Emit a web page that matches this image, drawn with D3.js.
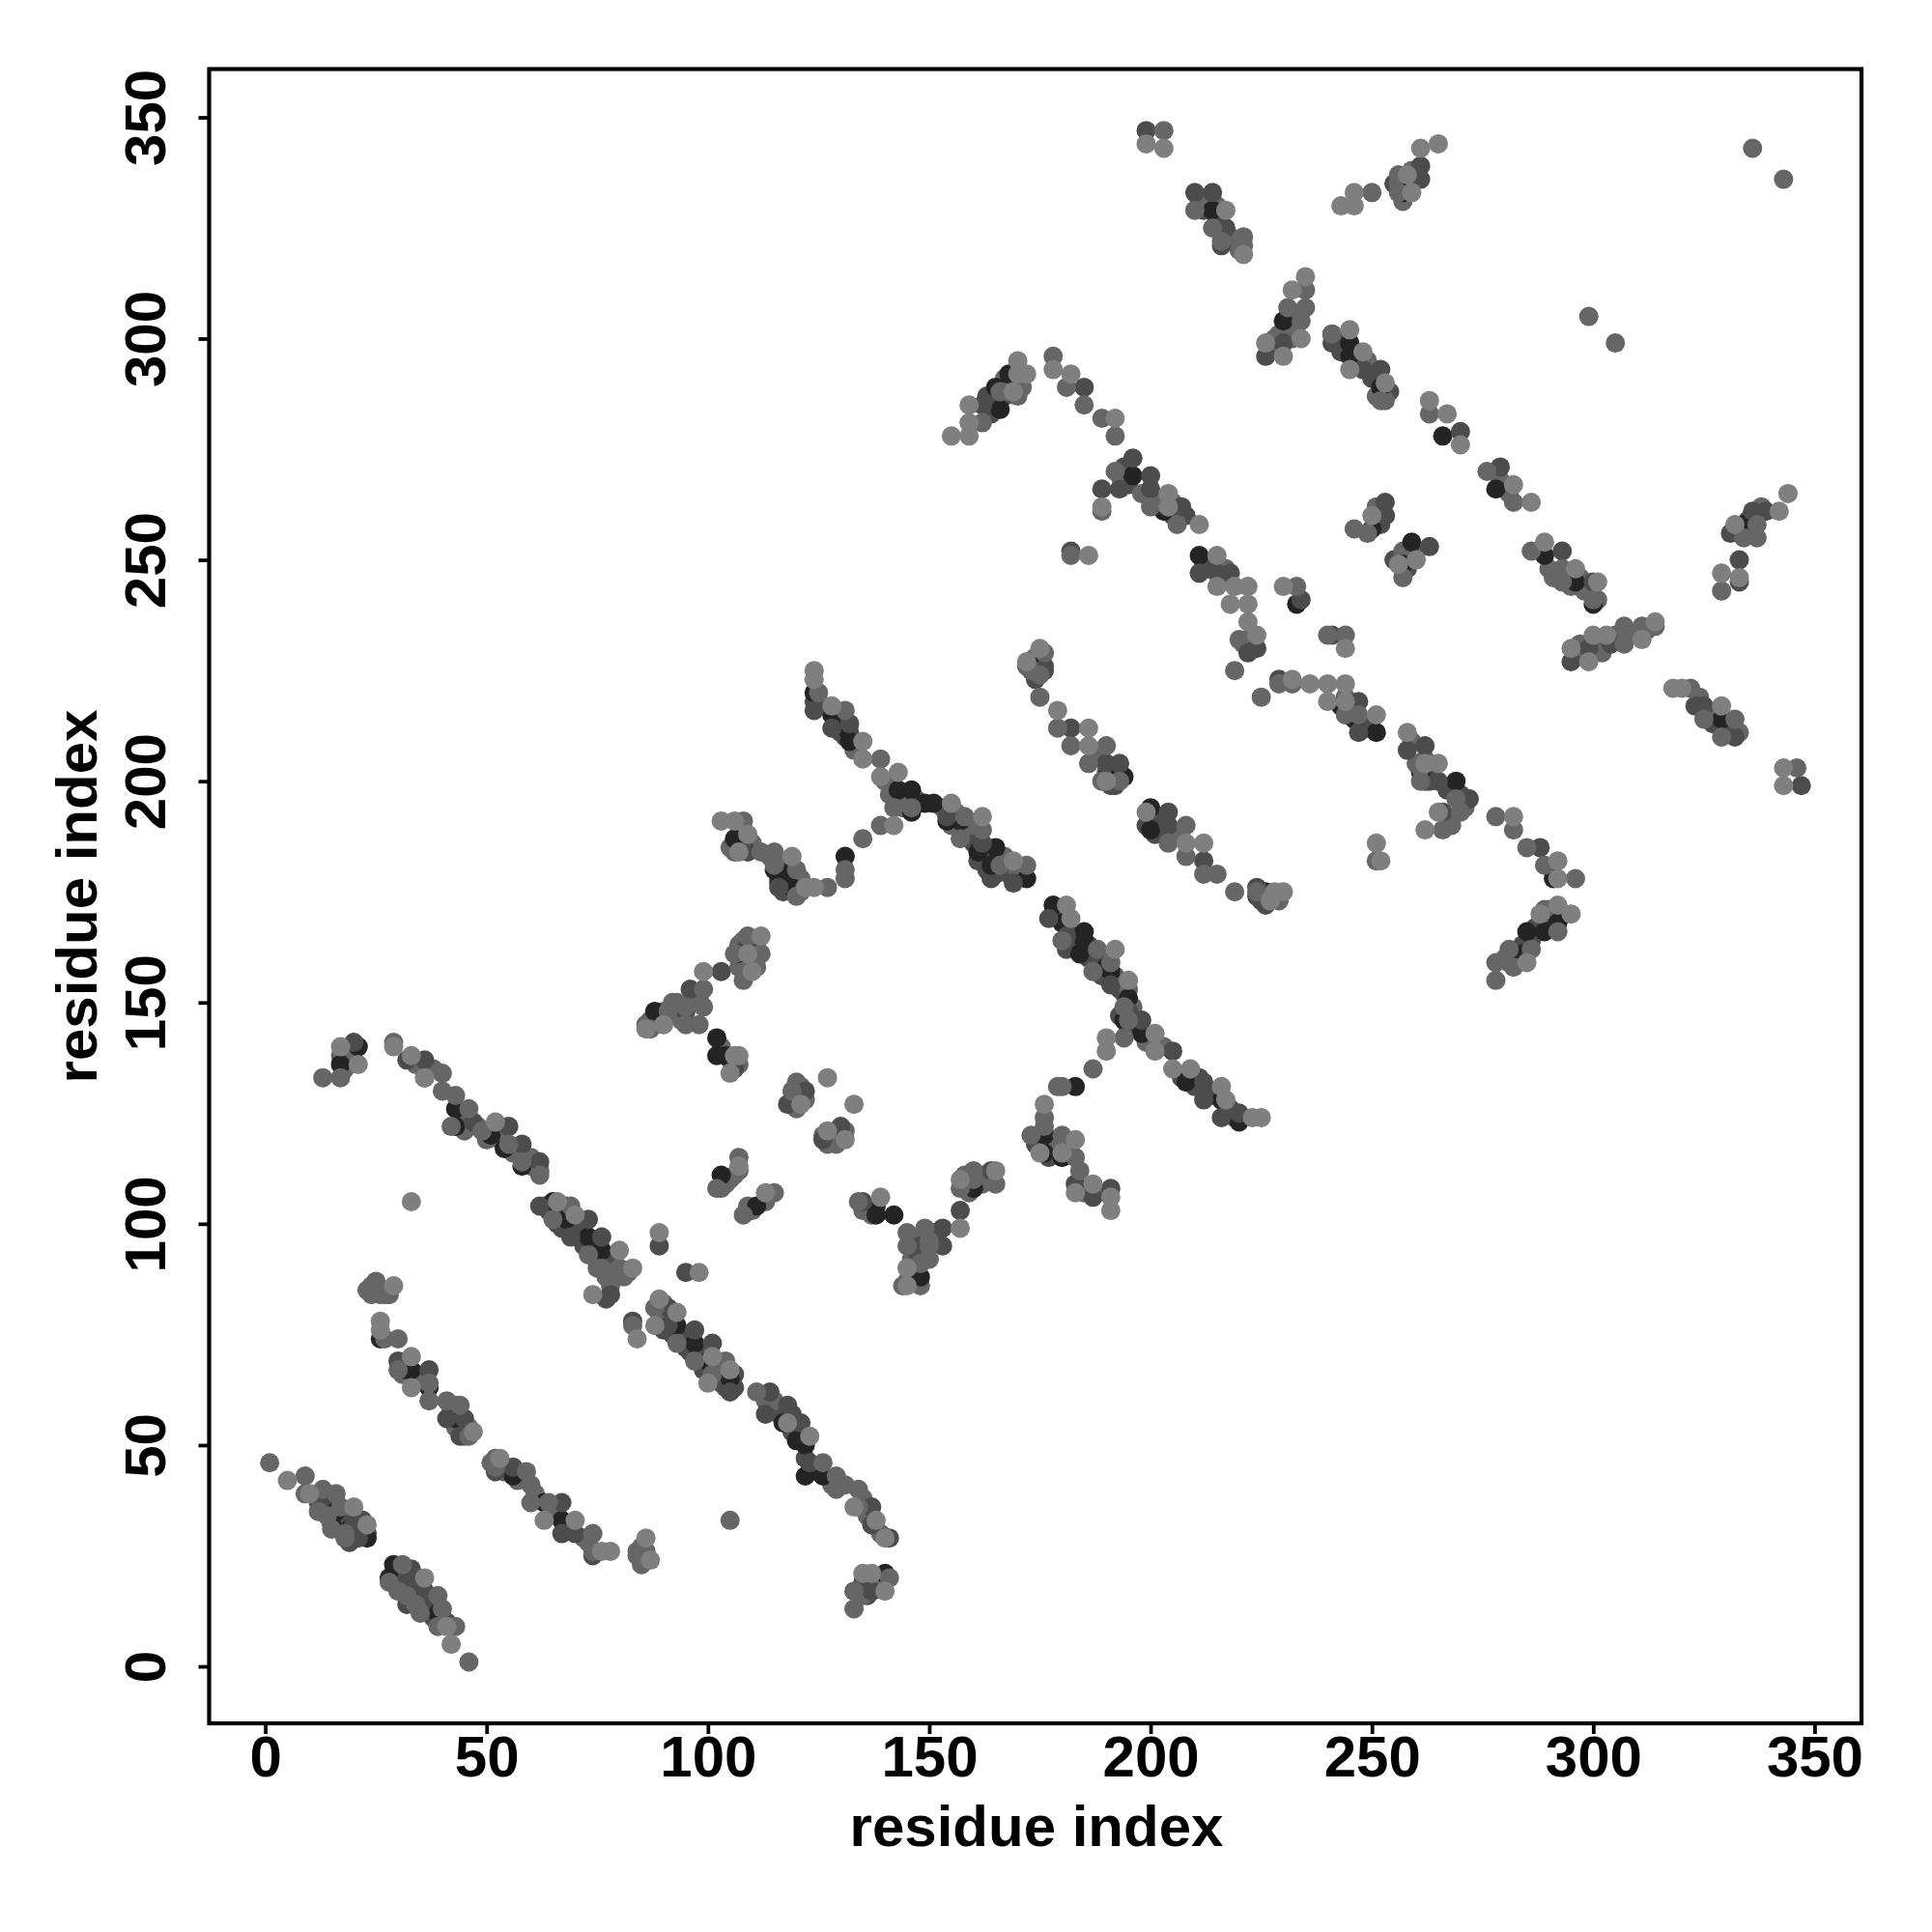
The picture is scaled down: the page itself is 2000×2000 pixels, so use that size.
<!DOCTYPE html>
<html><head><meta charset="utf-8">
<script src="https://cdnjs.cloudflare.com/ajax/libs/d3/7.8.5/d3.min.js"></script>
<style>html,body{margin:0;background:#fff}svg{display:block}text{font-family:"Liberation Sans",Arial,sans-serif;font-weight:700;fill:#000}</style>
</head><body><script>
const xTicks=[0,50,100,150,200,250,300,350];
const yTicks=[0,50,100,150,200,250,300,350];
const axisTitle="residue index";
const blackPoints=[[12,39],[16,35],[15,32],[19,31],[23,29],[29,23],[28,20],[31,19],[39,12],[26,74],[32,67],[33,67],[37,63],[43,56],[56,43],[63,37],[67,33],[21,140],[17,136],[43,126],[43,122],[51,120],[54,117],[58,113],[65,105],[68,101],[73,97],[76,94],[93,77],[97,73],[100,69],[105,65],[117,55],[120,51],[122,50],[122,43],[126,43],[121,51],[103,111],[111,104],[138,104],[138,102],[142,102],[148,88],[140,21],[124,220],[128,215],[131,212],[132,209],[143,198],[146,198],[146,193],[149,195],[151,195],[154,191],[157,191],[161,184],[165,185],[164,181],[172,178],[131,183],[106,187],[115,180],[119,180],[116,177],[119,176],[107,161],[88,148],[102,142],[102,138],[104,138],[178,172],[180,168],[185,166],[185,164],[184,161],[190,158],[191,157],[195,151],[194,146],[198,143],[208,132],[216,128],[220,123],[183,131],[176,120],[176,116],[180,115],[160,108],[200,194],[200,189],[226,175],[173,226],[190,201],[194,201],[243,217],[246,214],[251,211],[261,202],[269,200],[278,266],[289,251],[296,245],[300,240],[292,168],[289,166],[285,166],[284,161],[291,178],[168,292],[165,289],[166,284],[196,269],[203,261],[211,251],[233,240],[253,260],[250,257],[259,254],[257,249],[214,329],[230,304],[241,301],[245,299],[245,296],[252,289],[266,278],[257,336],[257,333],[329,214],[334,258]];
const darkPoints=[[20,32],[19,28],[21,29],[12,37],[32,20],[36,17],[30,69],[37,67],[45,56],[41,56],[44,52],[52,44],[56,45],[67,37],[67,30],[70,30],[74,25],[20,141],[32,137],[36,137],[47,123],[55,122],[58,118],[62,114],[62,104],[73,101],[69,97],[76,97],[78,84],[77,83],[89,95],[95,89],[91,81],[91,77],[97,76],[101,73],[105,62],[83,78],[114,62],[113,57],[118,59],[121,55],[123,46],[137,36],[137,32],[141,29],[137,17],[130,122],[126,119],[135,105],[148,95],[124,216],[128,212],[132,213],[154,192],[162,186],[169,177],[109,163],[103,157],[96,153],[95,148],[106,135],[122,130],[118,127],[109,184],[116,176],[177,169],[181,165],[191,154],[195,148],[198,146],[205,139],[212,132],[212,128],[216,124],[220,125],[183,109],[187,106],[191,108],[164,112],[157,103],[153,99],[147,94],[153,95],[204,193],[204,190],[212,182],[224,176],[175,225],[182,212],[190,204],[193,204],[229,223],[247,218],[247,211],[258,207],[262,208],[265,200],[272,196],[266,193],[288,185],[162,285],[185,289],[200,266],[200,269],[189,266],[193,266],[196,273],[207,262],[211,247],[215,247],[218,247],[224,230],[222,229],[234,241],[241,233],[253,263],[253,260],[263,253],[199,347],[210,333],[214,333],[217,325],[216,321],[261,339],[261,336],[230,299],[226,296],[248,293],[252,293],[270,279],[279,271],[293,252],[300,245],[295,227],[299,230],[304,231],[323,217],[325,217],[332,210],[347,199],[339,261],[336,261],[333,250],[333,245],[182,252]];
const midPoints=[[1,46],[9,39],[9,43],[13,40],[16,39],[12,35],[17,36],[15,31],[14,34],[18,30],[18,29],[31,23],[28,19],[32,16],[39,16],[35,12],[40,13],[39,9],[43,9],[46,1],[30,17],[34,14],[23,85],[24,86],[25,85],[26,84],[27,84],[27,74],[30,74],[30,67],[37,64],[37,60],[41,60],[44,59],[46,52],[52,45],[59,44],[60,41],[60,37],[64,37],[74,30],[74,26],[84,26],[84,25],[85,24],[17,133],[13,133],[29,141],[36,133],[40,134],[40,130],[43,129],[46,126],[42,122],[49,121],[55,118],[58,114],[62,111],[69,104],[65,101],[73,93],[76,90],[80,90],[77,88],[81,88],[88,81],[93,73],[97,69],[104,69],[101,66],[83,77],[111,62],[129,43],[126,46],[129,40],[134,40],[134,36],[133,17],[133,13],[141,20],[105,33],[107,115],[102,108],[115,107],[108,102],[134,105],[145,98],[145,95],[149,99],[150,96],[148,91],[150,92],[144,86],[131,216],[125,220],[139,205],[142,194],[146,194],[158,192],[157,187],[162,189],[166,181],[172,181],[139,190],[135,187],[131,180],[131,178],[108,191],[115,184],[112,184],[115,181],[120,180],[120,174],[127,176],[109,165],[106,161],[112,161],[108,157],[99,153],[99,149],[95,149],[92,150],[91,148],[87,144],[95,145],[98,145],[119,130],[180,164],[188,162],[187,157],[191,159],[194,149],[195,146],[194,142],[187,135],[179,131],[180,131],[176,124],[176,122],[173,120],[180,120],[183,115],[184,112],[160,112],[165,109],[157,108],[160,110],[150,95],[208,183],[204,186],[208,190],[212,179],[215,179],[219,175],[224,175],[175,224],[173,225],[175,219],[179,212],[182,208],[190,208],[186,204],[193,200],[189,200],[219,225],[225,219],[229,222],[232,222],[244,215],[247,215],[261,203],[261,200],[269,196],[270,193],[266,189],[251,182],[278,192],[282,189],[285,185],[289,181],[296,178],[292,166],[286,162],[281,162],[278,159],[282,158],[278,155],[166,288],[162,281],[178,296],[181,289],[185,285],[189,282],[192,278],[192,270],[200,262],[206,258],[189,261],[182,251],[233,244],[240,233],[244,233],[246,257],[249,256],[257,246],[203,347],[210,329],[214,325],[216,322],[221,323],[221,321],[235,311],[231,307],[235,307],[234,304],[241,301],[252,286],[263,283],[276,270],[282,263],[286,252],[293,248],[293,245],[300,241],[336,343],[343,336],[305,299],[299,305],[256,337],[256,333],[250,333],[307,231],[307,235],[311,235],[314,235],[322,221],[325,214],[332,214],[329,210],[346,203],[329,243],[337,258],[337,255],[334,255]];
const lightPoints=[[5,42],[10,39],[20,36],[23,32],[36,20],[41,9],[42,5],[29,86],[26,78],[26,76],[33,70],[33,63],[47,53],[53,47],[63,33],[70,33],[78,26],[76,26],[86,29],[87,24],[17,140],[21,136],[29,140],[33,138],[36,133],[52,123],[66,105],[70,102],[80,94],[83,90],[74,84],[33,105],[89,98],[98,89],[89,83],[88,77],[93,80],[101,70],[105,67],[100,64],[84,74],[118,55],[123,52],[133,36],[138,33],[140,29],[137,21],[135,21],[140,17],[107,113],[113,107],[145,90],[145,86],[139,106],[127,121],[131,119],[127,133],[133,127],[121,127],[124,225],[124,223],[128,217],[135,209],[135,205],[139,201],[143,202],[155,195],[162,192],[169,182],[142,190],[103,191],[106,191],[109,188],[107,184],[119,183],[122,176],[124,176],[112,165],[109,161],[110,157],[99,157],[90,145],[86,144],[106,138],[107,138],[105,134],[181,172],[182,169],[192,162],[195,155],[190,142],[190,139],[201,143],[201,139],[205,135],[209,135],[216,131],[217,128],[223,124],[225,124],[176,127],[183,119],[175,116],[180,116],[183,107],[187,109],[191,106],[191,103],[157,110],[165,112],[157,99],[199,193],[208,186],[212,186],[227,173],[230,175],[228,175],[175,230],[172,227],[179,216],[186,212],[186,208],[190,200],[232,223],[236,222],[240,222],[244,222],[240,218],[244,218],[251,215],[258,211],[262,204],[265,204],[265,193],[262,189],[251,186],[252,182],[282,192],[292,182],[292,178],[292,172],[295,170],[288,170],[285,159],[170,295],[170,292],[172,292],[169,288],[159,285],[159,278],[155,278],[159,281],[178,293],[182,292],[192,282],[204,265],[204,262],[211,258],[189,262],[215,251],[215,244],[219,244],[222,244],[218,240],[222,240],[222,236],[224,233],[230,244],[244,230],[186,251],[250,260],[256,249],[260,250],[199,344],[203,343],[217,329],[221,319],[235,314],[232,311],[234,300],[226,299],[230,296],[245,302],[245,293],[248,297],[253,290],[263,286],[267,283],[270,276],[282,267],[286,263],[289,254],[296,248],[301,245],[243,330],[246,330],[246,333],[261,343],[258,337],[259,333],[265,344],[295,230],[299,227],[300,233],[303,233],[311,232],[314,236],[318,221],[320,221],[329,217],[343,203],[343,199],[344,265],[342,261],[332,258],[329,247],[333,246]];
const clusterDarkPoints=[[13,38],[14,37],[13,35],[16,37],[17,33],[18,34],[20,34],[19,30],[20,29],[22,30],[22,33],[15,34],[17,31],[21,31],[23,30],[19,33],[29,21],[30,22],[29,19],[30,20],[33,22],[33,18],[35,19],[34,16],[33,15],[36,15],[36,13],[37,14],[38,15],[38,11],[40,11],[34,18],[31,17],[32,14],[37,12],[41,10],[63,104],[64,103],[67,103],[68,104],[66,100],[67,99],[70,99],[71,100],[72,98],[72,95],[74,95],[75,92],[77,92],[78,91],[79,93],[89,80],[90,79],[92,79],[90,76],[92,75],[94,75],[95,74],[95,72],[96,71],[98,71],[99,70],[99,67],[102,68],[103,67],[102,65],[103,64],[104,63],[106,66],[106,63],[116,57],[119,57],[119,53],[121,53],[122,47],[124,45],[125,44],[123,44],[136,18],[135,19],[138,19],[136,16],[125,218],[126,217],[124,218],[129,214],[130,211],[131,210],[132,211],[155,191],[157,189],[158,188],[159,187],[160,186],[160,188],[161,187],[163,183],[162,182],[161,182],[165,182],[168,179],[167,180],[165,179],[164,178],[163,180],[116,178],[117,179],[118,178],[117,175],[118,177],[179,170],[180,171],[178,170],[181,167],[183,163],[182,164],[183,162],[181,162],[186,163],[186,160],[187,160],[189,160],[189,157],[189,156],[190,156],[192,154],[193,153],[194,152],[193,147],[195,144],[197,144],[207,133],[210,131],[211,133],[213,130],[214,129],[217,125],[218,126],[219,124],[174,118],[175,118],[177,118],[178,117],[178,119],[177,115],[201,191],[202,192],[199,190],[201,188],[203,189],[225,173],[226,172],[224,174],[174,225],[176,226],[174,223],[176,225],[191,202],[192,201],[192,199],[191,199],[193,202],[245,217],[247,213],[248,213],[249,212],[263,202],[262,200],[263,200],[267,198],[270,197],[286,164],[287,167],[286,165],[288,168],[290,168],[283,160],[282,161],[284,163],[163,287],[164,286],[164,283],[165,285],[167,287],[194,271],[195,267],[201,263],[205,260],[208,260],[212,249],[213,248],[251,258],[252,258],[255,250],[258,252],[258,248],[212,329],[215,327],[241,299],[243,299],[243,297],[250,291],[254,288],[257,335],[258,335],[255,335],[333,256],[335,257],[335,259],[331,256],[327,213],[330,212],[331,212],[331,211]];
const clusterMidPoints=[[24,84],[25,87],[26,85],[27,85],[28,84],[32,69],[31,66],[34,66],[35,65],[42,58],[43,59],[44,54],[45,53],[44,53],[45,52],[46,54],[43,54],[51,46],[52,47],[53,45],[54,44],[57,42],[58,43],[61,38],[61,39],[66,34],[68,31],[69,32],[72,29],[73,28],[85,27],[85,26],[86,25],[86,26],[85,23],[17,138],[19,139],[18,135],[20,137],[34,136],[38,135],[44,124],[45,125],[45,121],[46,122],[48,122],[50,119],[52,120],[53,119],[56,116],[57,117],[59,115],[60,115],[60,113],[62,112],[75,90],[78,89],[82,89],[79,88],[78,86],[90,82],[89,78],[113,60],[115,60],[128,41],[131,41],[135,38],[136,34],[139,30],[135,16],[139,19],[105,110],[104,109],[113,105],[109,104],[110,103],[106,111],[107,112],[103,108],[135,103],[137,102],[146,92],[146,97],[147,90],[148,86],[147,87],[146,88],[149,94],[151,98],[148,92],[145,87],[133,207],[140,200],[141,197],[144,196],[145,197],[144,194],[147,196],[153,194],[156,193],[155,190],[159,190],[167,183],[170,180],[171,179],[105,185],[106,184],[110,186],[114,183],[116,182],[121,178],[120,176],[121,175],[107,163],[108,164],[110,162],[111,163],[110,160],[107,158],[109,159],[111,158],[108,155],[98,151],[97,150],[96,150],[94,146],[93,148],[89,147],[90,148],[87,146],[88,145],[86,145],[93,150],[103,140],[105,137],[106,136],[107,136],[120,128],[122,128],[119,128],[120,126],[121,131],[120,132],[127,119],[128,120],[129,118],[126,120],[129,121],[127,118],[131,121],[192,156],[195,153],[196,149],[199,141],[203,140],[179,118],[181,117],[182,116],[184,108],[185,107],[188,107],[186,108],[158,109],[159,107],[161,109],[162,109],[163,110],[162,111],[158,111],[206,188],[229,173],[172,226],[174,228],[176,229],[188,206],[190,202],[244,219],[259,209],[260,204],[262,205],[267,192],[268,190],[271,194],[280,267],[281,265],[279,268],[290,248],[291,246],[294,247],[295,244],[297,246],[298,243],[299,243],[298,245],[301,241],[290,171],[289,171],[280,160],[281,159],[167,290],[168,288],[171,289],[170,287],[167,291],[193,269],[198,265],[202,264],[205,263],[216,245],[217,248],[220,232],[221,231],[223,231],[222,232],[251,262],[260,252],[257,252],[211,331],[215,330],[218,323],[219,322],[220,320],[232,305],[233,305],[232,302],[228,298],[228,300],[229,301],[232,300],[233,301],[249,295],[253,286],[251,287],[259,338],[259,335],[256,335],[257,331],[336,256],[338,262],[297,231],[298,228],[301,230],[302,229],[305,233],[308,233],[312,234],[324,219],[326,215],[333,211]];
const layers=[[clusterDarkPoints,"#4c4c4c"],[clusterMidPoints,"#666666"],[blackPoints,"#242424"],[darkPoints,"#4c4c4c"],[midPoints,"#666666"],[lightPoints,"#7f7f7f"]];
const x=d3.scaleLinear().domain([-12.68,360.6]).range([216.5,1927]);
const y=d3.scaleLinear().domain([-12.87,360.9]).range([1784,71.5]);
const svg=d3.select("body").append("svg").attr("width",2000).attr("height",2000);
layers.forEach(([pts,c])=>svg.append("g").attr("fill",c).selectAll("circle").data(pts).join("circle").attr("cx",d=>x(d[0])).attr("cy",d=>y(d[1])).attr("r",10));
svg.append("rect").attr("x",216.5).attr("y",71.5).attr("width",1710.5).attr("height",1712.5).attr("fill","none").attr("stroke","#000").attr("stroke-width",4.2);
const ax=svg.append("g").attr("transform","translate(0,1784)").call(d3.axisBottom(x).tickValues(xTicks).tickSize(11).tickPadding(1).tickSizeOuter(0));
ax.select(".domain").remove();
ax.selectAll("line").attr("stroke","#000").attr("stroke-width",3.8);
ax.selectAll("text").attr("font-size",60).attr("fill","#000").attr("font-family",'"Liberation Sans"').attr("font-weight",700);
const ay=svg.append("g").attr("transform","translate(216.5,0)").call(d3.axisLeft(y).tickValues(yTicks).tickSize(11).tickSizeOuter(0).tickPadding(0));
ay.select(".domain").remove();
ay.selectAll("line").attr("stroke","#000").attr("stroke-width",3.8);
ay.selectAll("text").attr("font-size",60).attr("fill","#000").attr("font-family",'"Liberation Sans"').attr("font-weight",700).attr("text-anchor","middle").attr("dy",0).attr("x",0).attr("y",0)
  .attr("transform","translate(-46,0) rotate(-90)");
svg.append("text").attr("x",1073).attr("y",1911).attr("text-anchor","middle").attr("font-size",60).text(axisTitle);
svg.append("text").attr("transform","translate(100,928) rotate(-90)").attr("text-anchor","middle").attr("font-size",60).text(axisTitle);
</script></body></html>
